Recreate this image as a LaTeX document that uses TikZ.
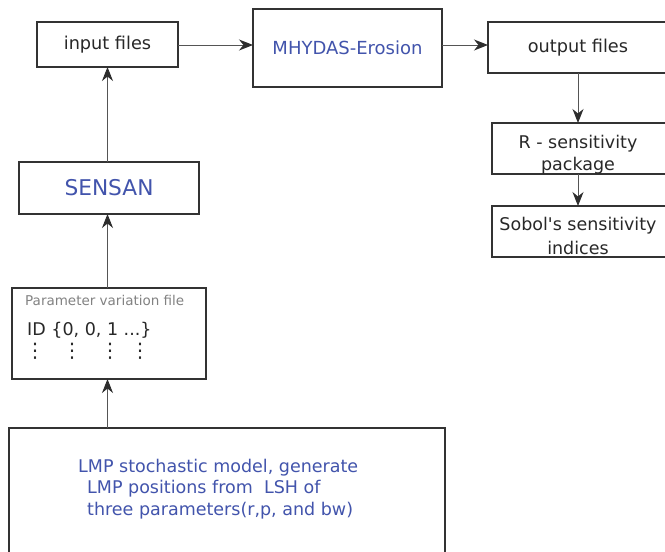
\documentclass[tikz,border=0pt]{standalone}
\usepackage{fontspec}
\setmainfont{DejaVu Sans}
\usetikzlibrary{arrows.meta,calc}
\definecolor{txtblue}{RGB}{66,84,172}
\definecolor{boxline}{RGB}{51,51,51}
\definecolor{arrline}{RGB}{85,85,85}
\definecolor{arrhead}{RGB}{45,45,45}
\definecolor{greytxt}{RGB}{130,130,130}
\definecolor{darktxt}{RGB}{40,40,40}
\begin{document}
\begin{tikzpicture}[x=1pt,y=-1pt,
  boxstyle/.style={draw=boxline,line width=1.3pt,fill=white,inner sep=0pt,outer sep=0pt},
  thickbox/.style={boxstyle,line width=2pt},
  flow/.style={draw=arrline,line width=1pt,-{Stealth[length=14pt,width=11pt,inset=4.5pt,color=arrhead]}},
  blacktxt/.style={text=darktxt,font=\fontsize{17.7}{20}\selectfont},
  bluetxt/.style={text=txtblue,font=\fontsize{18}{20}\selectfont},
]
\clip (0,0) rectangle (665,552);
\fill[white] (0,0) rectangle (665,552);

\node[boxstyle,minimum width=141pt,minimum height=45pt,blacktxt] (input) at (107.5,44.5) {input files};
\node[thickbox,minimum width=189pt,minimum height=78pt,bluetxt] (mhydas) at (347.5,48) {MHYDAS-Erosion};
\node[boxstyle,minimum width=180pt,minimum height=51pt,blacktxt] (output) at (578,47.5) {output files};
\node[boxstyle,minimum width=176pt,minimum height=51pt] (rsens) at (580,148.5) {};
\node[boxstyle,minimum width=176pt,minimum height=51pt] (sobol) at (580,231.5) {};
\node[boxstyle,minimum width=180pt,minimum height=52pt,text=txtblue,font=\fontsize{21.7}{24}\selectfont] (sensan) at (109,188) {SENSAN};
\node[boxstyle,minimum width=194pt,minimum height=91pt] (param) at (109,333.5) {};
\node[boxstyle,minimum width=436pt,minimum height=150pt] (lmp) at (227,503) {};

% texts of multi-line boxes
\node[blacktxt,font=\fontsize{17.5}{22}\selectfont,anchor=base,inner sep=0pt] (rtxt1) at (578,148) {R - sensitivity};
\node[blacktxt,font=\fontsize{17.5}{22}\selectfont,anchor=base,inner sep=0pt] (rtxt2) at (578,170) {package};
\node[blacktxt,font=\fontsize{17.5}{22}\selectfont,anchor=base,inner sep=0pt] (stxt1) at (578,230) {Sobol\textquotesingle s sensitivity};
\node[blacktxt,font=\fontsize{17.5}{22}\selectfont,anchor=base,inner sep=0pt] (stxt2) at (578,254) {indices};

\node[text=greytxt,font=\fontsize{13.5}{16}\selectfont,anchor=base west,inner sep=0pt] (ptitle) at (25,305) {Parameter variation file};
\node[text=darktxt,font=\fontsize{17.5}{20}\selectfont,anchor=base west,inner sep=0pt] (pid) at (27,335) {ID \{0, 0, 1 ...\}};
\foreach \xx/\nm in {35/d1,72/d2,110/d3,140/d4}
  \node[text=darktxt,font=\fontsize{20}{22}\selectfont,inner sep=0pt] (\nm) at (\xx,351) {⋮};

\node[text=txtblue,font=\fontsize{17.5}{21.5}\selectfont,anchor=base west,inner sep=0pt] (l1) at (78,472) {LMP stochastic model, generate};
\node[text=txtblue,font=\fontsize{17.5}{21.5}\selectfont,anchor=base west,inner sep=0pt] (l2) at (87,493.5) {LMP positions from \ LSH of};
\node[text=txtblue,font=\fontsize{17.5}{21.5}\selectfont,anchor=base west,inner sep=0pt] (l3) at (87,515) {three parameters(r,p, and bw)};

% connectors
\draw[flow] (input.east |- 0,45) -- (mhydas.west |- 0,45);
\draw[flow] (mhydas.east |- 0,45) -- (output.west |- 0,45);
\draw[flow] (output.south -| 578,0) -- (rsens.north -| 578,0);
\draw[flow] (rsens.south -| 578,0) -- (sobol.north -| 578,0);
\draw[flow] (sensan.north -| input.south) -- (input.south);
\draw[flow] (param.north -| input.south) -- (sensan.south -| input.south);
\draw[flow] (lmp.north -| input.south) -- (param.south -| input.south);
\end{tikzpicture}
\end{document}
